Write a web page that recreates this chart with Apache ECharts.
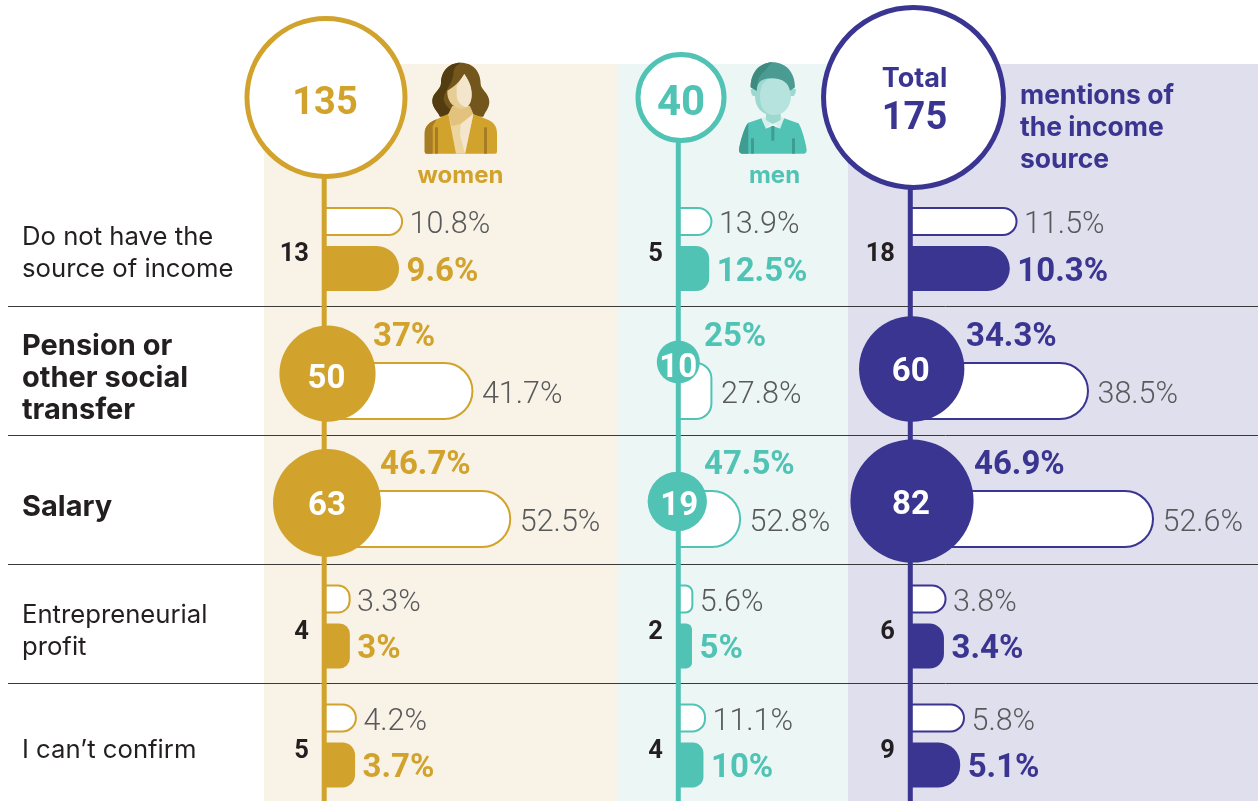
<!DOCTYPE html>
<html><head><meta charset="utf-8">
<style>html,body{margin:0;padding:0;background:#fff}#c{width:1258px;height:801px}</style>
<script src="https://cdn.jsdelivr.net/npm/echarts@6/dist/echarts.min.js"></script>
</head><body><div id="c"></div>
<script>
// ---- data ----
const categories = [['Do not have the','source of income'],['Pension or','other social','transfer'],['Salary'],['Entrepreneurial','profit'],["I can\u2019t confirm"]];
const emphasised = [false,true,true,false,false];
const womenCounts = [13,50,63,4,5];
const womenOutline = [10.8,41.7,52.5,3.3,4.2];
const womenSolid = [9.6,37,46.7,3,3.7];
const womenTotal = 135;
const menCounts = [5,10,19,2,4];
const menOutline = [13.9,27.8,52.8,5.6,11.1];
const menSolid = [12.5,25,47.5,5,10];
const menTotal = 40;
const allCounts = [18,60,82,6,9];
const allOutline = [11.5,38.5,52.6,3.8,5.8];
const allSolid = [10.3,34.3,46.9,3.4,5.1];
const allTotal = 175;

// ---- layout and style ----
const W = 1258, H = 801;
const outlineY = [221.5,391,519,599,718];
const outlineH = [29,58,58,29,29];
const solidY = [268.5,0,0,646,765];
const solidH = 45;
const countY = [252,0,0,630,749];
const tallY = [335,463];
const separators = [306.5,435.5,564.5,683.5];
const SIZE_K = 13.6;
const GRAY = '#58595b', INK = '#231f20';
const NUM = 'Roboto, sans-serif', TXT = 'Inter, sans-serif';
const panels = [
 {name:'women',color:'#d2a32c',bg:'#f9f3e7',left:264,right:618,base:327.5,k:3.5,stem:324.2,solidF:2.13,
  counts:womenCounts,outline:womenOutline,solid:womenSolid,total:womenTotal,
  headX:326,headSize:38,headOff:[-1,7],countRight:309,bubX:[327.5,327],bubY:[373.7,503],
  bubOff:[[-1,6],[0,4]],tallX:[373,380]},
 {name:'men',color:'#51c3b5',bg:'#ecf6f5',left:618,right:848,base:680.5,k:1.148,stem:678.3,solidF:2.0,
  counts:menCounts,outline:menOutline,solid:menSolid,total:menTotal,
  headX:681,headSize:42,headOff:[0,7],countRight:663,bubX:[678.3,677.3],bubY:[362,501.5],
  bubOff:[[0,7],[2,5]],tallX:[704,704]},
 {name:'total',color:'#3a3590',bg:'#e0dfee',left:848,right:1258,base:911.5,k:4.61,stem:910.3,solidF:2.07,
  counts:allCounts,outline:allOutline,solid:allSolid,total:allTotal,
  headX:913.5,headSize:38,headOff:[1,3],countRight:895,bubX:[911.7,912],bubY:[369,501],
  bubOff:[[-1,4],[-1,5]],tallX:[966,974]}
];
const headY = 97.5;
const val = (p,px)=>(px-p.base)/p.k;

const grid=[],xAxis=[],yAxis=[],series=[];
panels.forEach((p,i)=>{
  grid.push({left:p.left,width:p.right-p.left,top:0,height:H,show:false});
  xAxis.push({type:'value',gridIndex:i,show:false,min:val(p,p.left),max:val(p,p.right)});
  yAxis.push({type:'value',gridIndex:i,show:false,min:0,max:H,inverse:true});
  // bars with their labels
  series.push({type:'custom',name:p.name+' bars',xAxisIndex:i,yAxisIndex:i,z:3,silent:true,animation:false,
    data:p.outline.map((v,r)=>[v,p.solid[r],p.counts[r]]),
    renderItem:(params,api)=>{
      const r=params.dataIndex, kids=[];
      const x0=api.coord([0,0])[0]-2.5;
      const tall=outlineH[r]>40;
      const yO=outlineY[r],hO=outlineH[r];
      const xO=api.coord([api.value(0)*(tall?1:2),yO])[0];
      const wO=xO-x0;
      kids.push({type:'rect',shape:{x:x0,y:yO-hO/2+1,width:wO-1,height:hO-2,r:[0,Math.min(hO/2-1,wO*.45),Math.min(hO/2-1,wO*.45),0]},
        style:{fill:'#fff',stroke:p.color,lineWidth:2}});
      kids.push({type:'text',style:{text:api.value(0)+'%',x:xO+(tall?8.5:6.5),y:yO+4,fill:GRAY,font:'300 30.5px '+NUM,textAlign:'left',textVerticalAlign:'middle'}});
      if(tall){
        kids.push({type:'text',style:{text:api.value(1)+'%',x:p.tallX[r-1],y:tallY[r-1]+3,fill:p.color,font:'700 33px '+NUM,textAlign:'left',textVerticalAlign:'middle'}});
      }else{
        const yS=solidY[r];
        const xS=api.coord([api.value(1)*p.solidF,yS])[0];
        const wS=xS-x0;
        const rr=Math.min(solidH/2,wS*.42);
        kids.push({type:'rect',shape:{x:x0,y:yS-solidH/2,width:wS,height:solidH,r:[0,rr,rr,0]},style:{fill:p.color}});
        kids.push({type:'text',style:{text:api.value(1)+'%',x:xS+7.5,y:yS+4,fill:p.color,font:'700 33px '+NUM,textAlign:'left',textVerticalAlign:'middle'}});
        kids.push({type:'text',style:{text:String(api.value(2)),x:p.countRight,y:countY[r]+3,fill:INK,font:'700 25.5px '+NUM,textAlign:'right',textVerticalAlign:'middle'}});
      }
      return {type:'group',children:kids};
    }});
  // stem
  series.push({type:'line',name:p.name+' stem',xAxisIndex:i,yAxisIndex:i,z:4,silent:true,animation:false,symbol:'none',clip:false,
    lineStyle:{color:p.color,width:5,cap:'butt'},data:[[val(p,p.stem),headY],[val(p,p.stem),H]]});
  // count bubbles
  series.push({type:'scatter',name:p.name+' bubbles',xAxisIndex:i,yAxisIndex:i,z:5,silent:true,animation:false,clip:false,
    symbolSize:d=>SIZE_K*Math.sqrt(d[2]),itemStyle:{color:p.color,opacity:1},
    data:[0,1].map(j=>({value:[val(p,p.bubX[j]),p.bubY[j],p.counts[j+1]],
      label:{show:true,position:'inside',offset:p.bubOff[j],formatter:o=>String(o.value[2]),color:'#fff',fontFamily:NUM,fontWeight:700,fontSize:33}}))});
  // header circle
  series.push({type:'scatter',name:p.name+' header',xAxisIndex:i,yAxisIndex:i,z:5,silent:true,animation:false,clip:false,
    symbolSize:d=>SIZE_K*Math.sqrt(d[2]),itemStyle:{color:'#fff',borderColor:p.color,borderWidth:5,opacity:1},
    label:{show:true,position:'inside',
      formatter:o=>p.name==='total'?'{a|Total}\n{b|'+o.value[2]+'}':String(o.value[2]),
      offset:p.headOff,color:p.color,fontFamily:NUM,fontWeight:700,fontSize:p.headSize,
      rich:{a:{fontFamily:TXT,fontWeight:700,fontSize:27,color:p.color,lineHeight:38},b:{fontFamily:NUM,fontWeight:700,fontSize:38,color:p.color,lineHeight:44}}},
    data:[[val(p,p.headX),headY,p.total]]});
});

// backgrounds, separators, row labels, header words
const g=[];
panels.forEach(p=>g.push({type:'rect',z:0,silent:true,shape:{x:p.left,y:64,width:p.right-p.left,height:H-64},style:{fill:p.bg}}));
separators.forEach(y=>g.push({type:'line',z:1,silent:true,shape:{x1:8,y1:y,x2:W,y2:y},style:{stroke:'#3a3a3a',lineWidth:1}}));
const rowCentre=[252,377,506,630,749];
categories.forEach((lines,r)=>lines.forEach((t,j)=>{
  g.push({type:'text',z:6,style:{text:t,x:22,y:rowCentre[r]+(j-(lines.length-1)/2)*32+1,fill:INK,
    font:(emphasised[r]?'700 29px ':'400 25.7px ')+TXT,textAlign:'left',textVerticalAlign:'middle'}});
}));
const word=(t,x,y,c,a)=>g.push({type:'text',z:6,style:{text:t,x,y,fill:c,font:'700 '+(a==='left'?'26.5':'24')+'px '+TXT,textAlign:a,textVerticalAlign:'middle'}});
word('women',460.5,176,panels[0].color,'center');
word('men',774.5,176,panels[1].color,'center');
word('mentions of',1020,96,panels[2].color,'left');
word('the income',1020,128,panels[2].color,'left');
word('source',1020,160,panels[2].color,'left');

// person icons, in a 3x working space
const raw=(d,fill)=>({type:'path',shape:{pathData:d},style:{fill}});
const womanIcon=[
  raw('M662 188C700 188 722 215 722 252C722 268 748 280 748 305C748 325 735 335 730 350L600 350C595 335 577 325 577 302C577 280 603 268 603 250C603 215 625 188 662 188Z','#72561b'),
  raw('M662 188C625 188 603 215 603 250C603 268 577 280 577 302C577 325 595 335 600 350L640 335C615 320 605 300 615 280C625 262 640 240 640 220C640 205 650 195 662 188Z','#523c10'),
  raw('M554 400C554 378 570 365 590 358L625 342L700 342L740 358C760 365 771 378 771 400L771 455Q771 461 765 461L560 461Q554 461 554 455Z','#d2a32c'),
  raw('M554 400C554 378 570 365 590 358L578 378L578 461L560 461Q554 461 554 455Z','#a67c24'),
  raw('M625 342L700 342L675 461L648 461Z','#ecd59f'),
  raw('M637 318L625 342L635 378L662 372L700 342L690 318Z','#e2c27c'),
  raw('M662 372L700 342L675 461L660 405Z','#f3e6cc'),
  raw('M673 222C660 245 640 262 622 272C620 297 635 322 662 326C690 326 695 300 695 285C695 260 685 240 673 222Z','#e6cc95'),
  raw('M673 222C665 235 656 250 650 258L650 285C650 305 665 320 680 322C690 315 695 300 695 280C695 258 685 240 673 222Z','#f3e6cc'),
  raw('M585 382L594 382L594 461L585 461Z','#a67c24'),
  raw('M732 382L741 382L741 461L732 461Z','#a67c24')
];
const manIcon=[
  raw('M385 368L425 355L440 385L458 378L478 385L492 355L535 370C545 380 560 440 560 450Q560 461 550 461L368 461Q357 461 357 450C357 440 372 380 385 368Z','#51c3b5'),
  raw('M385 368C372 380 357 440 357 450Q357 461 368 461L385 461Z','#3f9c90'),
  raw('M393 415L402 415L402 461L393 461Z','#3f9c90'),
  raw('M516 415L525 415L525 461L516 461Z','#3f9c90'),
  raw('M454 378L463 378L463 422L454 422Z','#3f9c90'),
  raw('M425 358L452 340L452 372L438 387Z','#d6f0ec'),
  raw('M492 355L465 340L465 372L480 387Z','#d6f0ec'),
  raw('M438 330L482 330L482 360L458 372L438 360Z','#9ed9d1'),
  raw('M392 268L410 262L410 288L398 288Q392 280 392 268Z','#9ed9d1'),
  raw('M528 268L510 262L510 288L522 288Q528 280 528 268Z','#9ed9d1'),
  raw('M458 232C425 232 405 250 405 290C405 320 425 345 458 345C490 345 512 320 512 290C512 250 490 232 458 232Z','#9ed9d1'),
  raw('M470 232C438 232 420 250 420 290C420 320 435 345 462 345C490 345 512 320 512 290C512 250 497 232 470 232Z','#b7e3de'),
  raw('M458 187C420 187 392 215 392 262L410 272C412 250 420 235 455 235C490 235 505 250 510 272L525 262C525 215 495 187 458 187Z','#4a9b92'),
  raw('M458 187C425 187 392 215 392 262L410 272C410 250 415 225 435 212C445 200 450 192 458 187Z','#3e8a81')
];
series.push({type:'custom',name:'icons',coordinateSystem:'none',z:6,silent:true,animation:false,data:[[0]],
  renderItem:()=>({type:'group',children:[
    {type:'group',x:240,y:0,scaleX:1/3,scaleY:1/3,children:womanIcon},
    {type:'group',x:620,y:0,scaleX:1/3,scaleY:1/3,children:manIcon}
  ]})});

const chart=echarts.init(document.getElementById('c'),null,{renderer:'canvas',width:W,height:H});
chart.setOption({animation:false,backgroundColor:'#fff',grid,xAxis,yAxis,series,graphic:{elements:g}});
</script></body></html>
